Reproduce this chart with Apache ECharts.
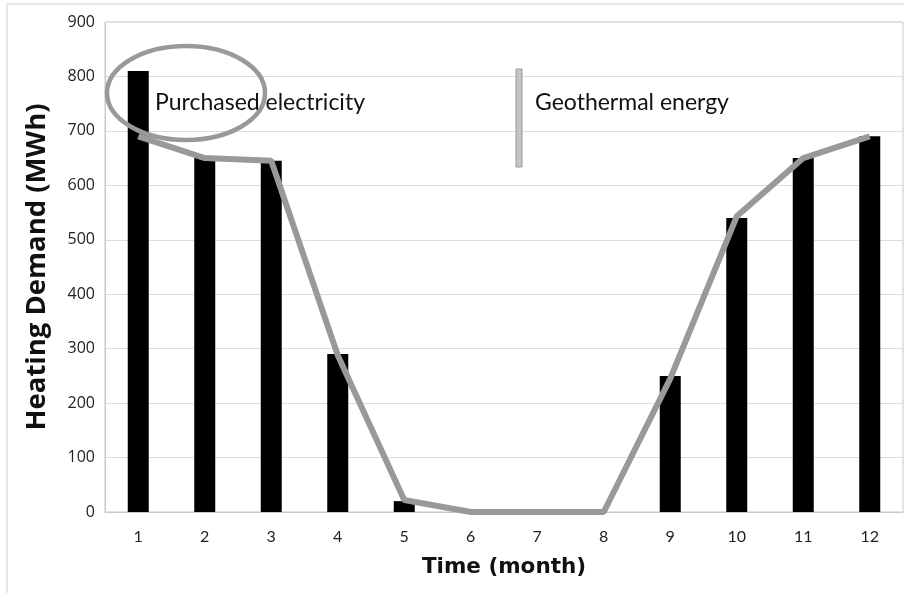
<!DOCTYPE html>
<html>
<head>
<meta charset="utf-8">
<script src="https://cdn.jsdelivr.net/npm/echarts@6/dist/echarts.min.js"></script>
<style>
  html, body { margin: 0; padding: 0; background: #fff; }
  #chart { width: 904px; height: 593px; }
</style>
</head>
<body>
<div id="chart"></div>
<script>
// Monthly heating demand (MWh)
const months = ['1', '2', '3', '4', '5', '6', '7', '8', '9', '10', '11', '12'];
const purchasedElectricity = [810, 650, 645, 290, 20, 0, 0, 0, 250, 540, 650, 690];
const geothermalEnergy = [690, 650, 645, 288, 22, 0, 0, 0, 245, 543, 650, 690];
const yTicks = { min: 0, max: 900, interval: 100 };

const chart = echarts.init(document.getElementById('chart'), null, { renderer: 'canvas' });

chart.setOption({
  backgroundColor: '#ffffff',
  animation: false,
  grid: { left: 105, top: 22, width: 798, height: 490, show: true, borderColor: '#c8c8c8', borderWidth: 1 },
  xAxis: {
    type: 'category',
    data: months,
    name: 'Time (month)',
    nameLocation: 'middle',
    nameGap: 44,
    nameTextStyle: { fontFamily: 'DejaVu Sans', fontWeight: 'bold', fontSize: 21.5, color: '#111' },
    axisLine: { lineStyle: { color: '#c8c8c8' } },
    axisTick: { show: false },
    axisLabel: { fontFamily: 'Lato', fontSize: 16, color: '#222', margin: 17 }
  },
  yAxis: {
    type: 'value',
    min: yTicks.min,
    max: yTicks.max,
    interval: yTicks.interval,
    name: 'Heating Demand (MWh)',
    nameLocation: 'middle',
    nameGap: 54,
    nameTextStyle: { fontFamily: 'Open Sans', fontWeight: 'bold', fontSize: 27.5, color: '#111' },
    axisLine: { show: true, lineStyle: { color: '#c8c8c8' } },
    axisTick: { show: false },
    axisLabel: { fontFamily: 'Open Sans', fontSize: 16, color: '#222', margin: 10 },
    splitLine: { lineStyle: { color: '#dcdcdc', width: 1 } }
  },
  series: [
    {
      name: 'Purchased electricity',
      type: 'bar',
      data: purchasedElectricity,
      barWidth: 21,
      itemStyle: { color: '#000000' },
      z: 2
    },
    {
      name: 'Geothermal energy',
      type: 'line',
      data: geothermalEnergy,
      symbol: 'none',
      lineStyle: { color: '#999999', width: 6 },
      clip: false,
      z: 3
    }
  ],
  graphic: [
    {
      type: 'rect',
      shape: { x: 7, y: 4, width: 1000, height: 1000 },
      style: { fill: 'none', stroke: '#d0d0d0', lineWidth: 1 },
      silent: true,
      z: 0
    },
    {
      type: 'ellipse',
      shape: { cx: 186, cy: 93, rx: 79, ry: 47 },
      style: { fill: 'none', stroke: '#999999', lineWidth: 4.5 },
      z: 10
    },
    {
      type: 'text',
      left: 155,
      top: 91,
      style: { text: 'Purchased electricity', fontFamily: 'Lato', fontSize: 23, fill: '#111' },
      z: 11
    },
    {
      type: 'rect',
      shape: { x: 516, y: 69, width: 6, height: 98 },
      style: { fill: '#c4c4c4', stroke: '#999999', lineWidth: 1 },
      z: 10
    },
    {
      type: 'text',
      left: 535,
      top: 91,
      style: { text: 'Geothermal energy', fontFamily: 'Lato', fontSize: 23, fill: '#111' },
      z: 11
    }
  ]
});
</script>
</body>
</html>
